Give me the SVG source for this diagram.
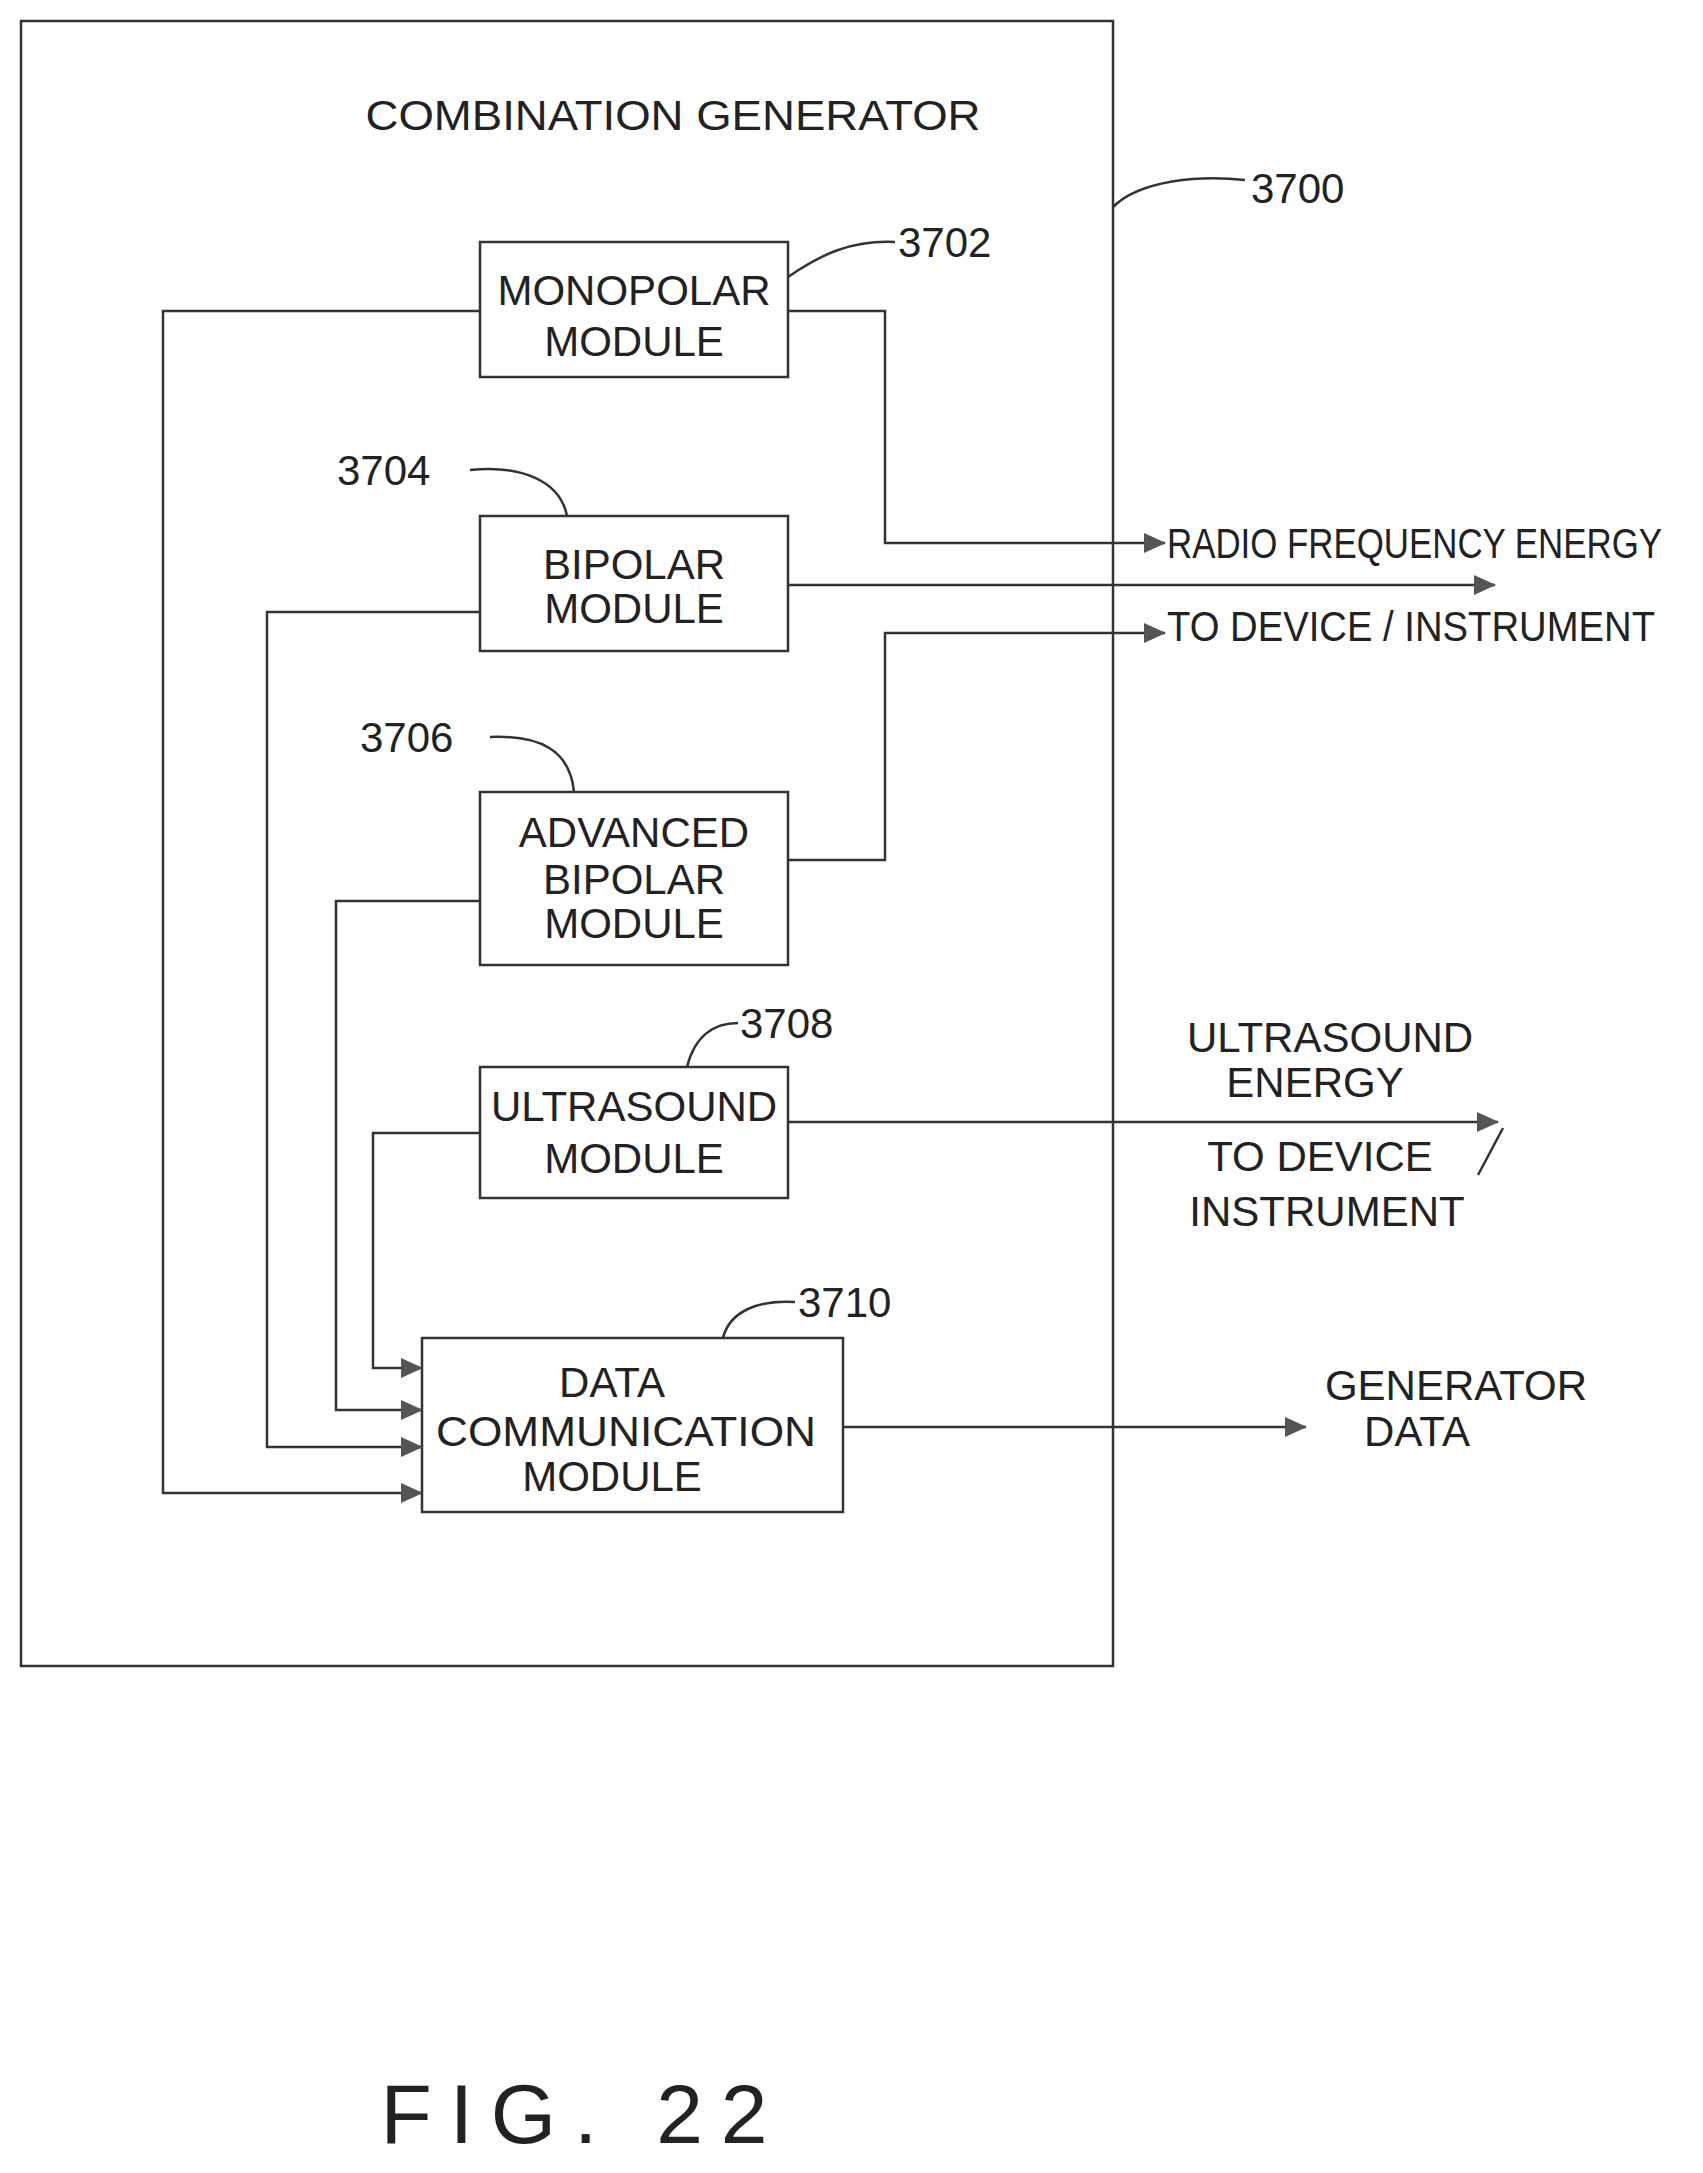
<svg xmlns="http://www.w3.org/2000/svg" width="1703" height="2173" viewBox="0 0 1703 2173">
<defs>
<style>
.b{fill:none;stroke:#333;stroke-width:2.5}
.c{fill:none;stroke:#333;stroke-width:2.5}
text{font-family:"Liberation Sans",Arial,sans-serif;font-size:42px;fill:#222;text-anchor:middle}
.n{text-anchor:start}
</style>
<marker id="a" markerWidth="22" markerHeight="20" refX="21" refY="10" orient="auto" markerUnits="userSpaceOnUse"><path d="M0,0 L22,10 L0,20 Z" fill="#555"/></marker>
</defs>
<rect width="1703" height="2173" fill="#fff"/>
<g id="outer"><rect class="b" x="21" y="21" width="1092" height="1645"/>
<text x="673" y="130" textLength="615" lengthAdjust="spacingAndGlyphs">COMBINATION GENERATOR</text>
<path class="c" d="M1113,207 C1140,180 1200,175 1245,180"/><text class="n" x="1251" y="203">3700</text></g>
<g id="n3702"><rect class="b" x="480" y="242" width="308" height="135"/><text x="634" y="305">MONOPOLAR</text><text x="634" y="356">MODULE</text>
<path class="c" d="M788,277 C820,255 850,240 895,242"/><text class="n" x="898" y="257">3702</text></g>
<g id="n3704"><rect class="b" x="480" y="516" width="308" height="135"/><text x="634" y="579">BIPOLAR</text><text x="634" y="623">MODULE</text>
<path class="c" d="M470,470 C520,465 560,480 567,516"/><text class="n" x="337" y="485">3704</text></g>
<g id="n3706"><rect class="b" x="480" y="792" width="308" height="173"/><text x="634" y="847">ADVANCED</text><text x="634" y="894">BIPOLAR</text><text x="634" y="938">MODULE</text>
<path class="c" d="M490,737 C540,735 570,750 574,792"/><text class="n" x="360" y="752">3706</text></g>
<g id="n3708"><rect class="b" x="480" y="1067" width="308" height="131"/><text x="634" y="1121">ULTRASOUND</text><text x="634" y="1173">MODULE</text>
<path class="c" d="M687,1067 C695,1035 715,1023 738,1023"/><text class="n" x="740" y="1038">3708</text></g>
<g id="n3710"><rect class="b" x="422" y="1338" width="421" height="174"/><text x="612" y="1397">DATA</text><text x="626" y="1446" textLength="380" lengthAdjust="spacingAndGlyphs">COMMUNICATION</text><text x="612" y="1491">MODULE</text>
<path class="c" d="M723,1338 C730,1310 760,1300 795,1302"/><text class="n" x="798" y="1317">3710</text></g>
<g id="connectors">
<path class="c" marker-end="url(#a)" d="M788,311 H885 V543 H1165"/>
<path class="c" marker-end="url(#a)" d="M788,585 H1495"/>
<path class="c" marker-end="url(#a)" d="M788,860 H885 V633 H1165"/>
<path class="c" marker-end="url(#a)" d="M788,1122 H1498"/>
<path class="c" marker-end="url(#a)" d="M843,1427 H1306"/>
<path class="c" marker-end="url(#a)" d="M480,311 H163 V1493 H422"/>
<path class="c" marker-end="url(#a)" d="M480,612 H267 V1447 H422"/>
<path class="c" marker-end="url(#a)" d="M480,901 H336 V1410 H422"/>
<path class="c" marker-end="url(#a)" d="M480,1133 H373 V1368 H422"/>
</g>
<g id="labels">
<text class="n" x="1167" y="558" textLength="495" lengthAdjust="spacingAndGlyphs">RADIO FREQUENCY ENERGY</text>
<text class="n" x="1167" y="641" textLength="488" lengthAdjust="spacingAndGlyphs">TO DEVICE / INSTRUMENT</text>
<text x="1330" y="1052">ULTRASOUND</text><text x="1315" y="1097">ENERGY</text>
<text x="1320" y="1171">TO DEVICE</text><path class="c" d="M1478,1175 L1503,1128"/>
<text x="1327" y="1226">INSTRUMENT</text>
<text x="1456" y="1400">GENERATOR</text><text x="1417" y="1446">DATA</text>
<text x="574" y="2143" style="font-size:84px" textLength="387">FIG.  22</text>
</g>
</svg>
